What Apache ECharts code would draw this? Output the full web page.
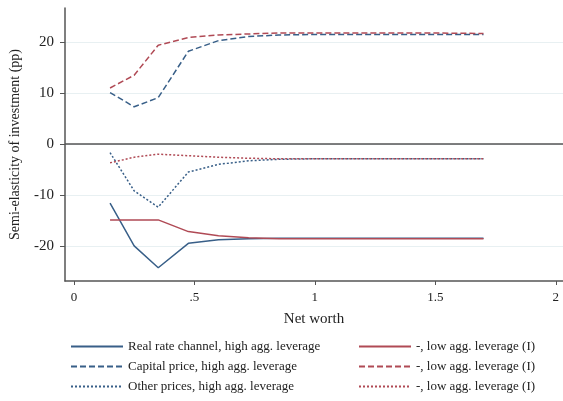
<!DOCTYPE html>
<html>
<head>
<meta charset="utf-8">
<script src="https://cdn.jsdelivr.net/npm/echarts@6/dist/echarts.min.js"></script>
<style>
html, body { margin: 0; padding: 0; background: #fff; }
#container { width: 563px; height: 401px; }
</style>
</head>
<body>
<div id="container"></div>
<script>
var dom = document.getElementById("container");
var myChart = echarts.init(dom);

// net worth grid (x)
var netWorth = [0.15, 0.25, 0.35, 0.475, 0.6, 0.725, 0.85, 1.0, 1.2, 1.45, 1.7];

// semi-elasticities (pp), high and low aggregate leverage
var realHigh  = [-11.6, -20.0, -24.3, -19.5, -18.8, -18.6, -18.5, -18.5, -18.5, -18.5, -18.5];
var realLow   = [-14.9, -14.9, -14.9, -17.2, -18.0, -18.4, -18.6, -18.6, -18.6, -18.6, -18.6];
var capHigh   = [10.1, 7.3, 9.1, 18.2, 20.3, 21.1, 21.4, 21.5, 21.5, 21.5, 21.5];
var capLow    = [11.0, 13.5, 19.4, 20.9, 21.4, 21.6, 21.8, 21.8, 21.8, 21.8, 21.7];
var otherHigh = [-1.7, -9.2, -12.4, -5.5, -4.0, -3.3, -3.0, -2.9, -2.9, -2.9, -2.9];
var otherLow  = [-3.7, -2.6, -2.0, -2.3, -2.6, -2.8, -2.9, -2.9, -2.9, -2.9, -2.9];

var xTicks = [0, 0.5, 1, 1.5, 2];
var yTicks = [-20, -10, 0, 10, 20];

var blue = '#385f88';
var red = '#b04a55';
var serif = '"Liberation Serif", "DejaVu Serif", serif';

function pairs(ys) {
    return netWorth.map(function (x, i) { return [x, ys[i]]; });
}

function line(name, ys, color, type) {
    return {
        name: name,
        type: 'line',
        data: pairs(ys),
        symbol: 'none',
        lineStyle: { color: color, width: 1.5, type: type },
        itemStyle: { color: color },
        animation: false
    };
}

var lowLabel = '-, low agg. leverage (I)';

var series = [
    line('Real rate channel, high agg. leverage', realHigh, blue, 'solid'),
    line('Capital price, high agg. leverage', capHigh, blue, [6, 3]),
    line('Other prices, high agg. leverage', otherHigh, blue, [2, 2]),
    line('lowReal', realLow, red, 'solid'),
    line('lowCap', capLow, red, [6, 3]),
    line('lowOther', otherLow, red, [2, 2])
];

// zero line
series[0].markLine = {
    silent: true,
    symbol: 'none',
    label: { show: false },
    lineStyle: { color: '#555', width: 1.5, type: 'solid' },
    data: [{ yAxis: 0 }],
    animation: false
};

var legendText = { fontFamily: serif, fontSize: 13, color: '#222' };

function legendBox(left, names, fmt) {
    var l = {
        orient: 'vertical',
        left: left,
        top: 340,
        height: 61,
        padding: 0,
        itemWidth: 52,
        itemHeight: 12,
        itemGap: 7,
        itemStyle: { opacity: 0 },
        textStyle: legendText,
        data: names
    };
    if (fmt) l.formatter = fmt;
    return l;
}

var option = {
    backgroundColor: '#fff',
    grid: {
        left: 61,
        right: 0,
        top: 8,
        bottom: 120
    },
    xAxis: {
        type: 'value',
        min: -0.037,
        max: 2.03,
        name: 'Net worth',
        nameLocation: 'middle',
        nameGap: 31,
        nameTextStyle: { fontFamily: serif, fontSize: 15, color: '#222' },
        axisLine: { show: true, onZero: false, lineStyle: { color: '#555', width: 1.5 } },
        axisTick: { show: true, length: 4, customValues: xTicks, lineStyle: { color: '#555' } },
        axisLabel: {
            customValues: xTicks,
            margin: 10,
            fontFamily: serif,
            fontSize: 13,
            color: '#222',
            formatter: function (v) {
                return v === 0.5 ? '.5' : String(v);
            }
        },
        splitLine: { show: false }
    },
    yAxis: {
        type: 'value',
        min: -26.9,
        max: 26.7,
        name: 'Semi-elasticity of investment (pp)',
        nameLocation: 'middle',
        nameGap: 43,
        nameTextStyle: { fontFamily: serif, fontSize: 14, color: '#222' },
        axisLine: { show: true, onZero: false, lineStyle: { color: '#555', width: 1.5 } },
        axisTick: { show: true, length: 5, customValues: yTicks, lineStyle: { color: '#555' } },
        axisLabel: {
            customValues: yTicks,
            margin: 11,
            fontFamily: serif,
            fontSize: 15,
            color: '#222'
        },
        splitLine: { show: true, lineStyle: { color: '#e8f0f2', width: 1 } }
    },
    legend: [
        legendBox(70, series.slice(0, 3).map(function (s) { return s.name; })),
        legendBox(358, ['lowReal', 'lowCap', 'lowOther'], function () { return lowLabel; })
    ],
    series: series
};

myChart.setOption(option);
</script>
</body>
</html>
